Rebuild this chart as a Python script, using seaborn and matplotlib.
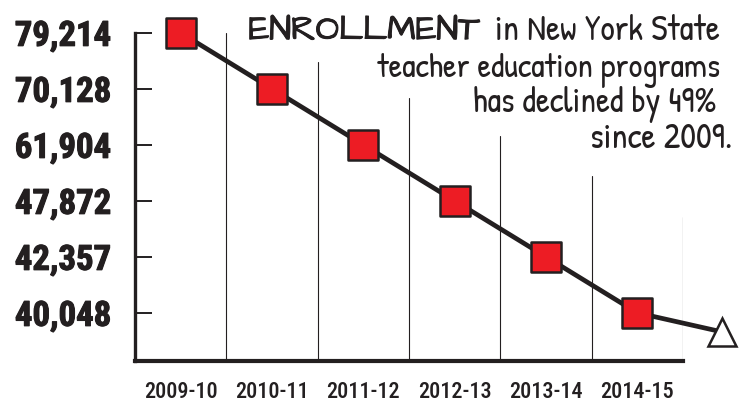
import matplotlib
matplotlib.use("Agg")
import matplotlib.pyplot as plt
import matplotlib.patheffects as pe
import seaborn as sns
import numpy as np

# enrollment by school year (NYS teacher education programs)
seasons = ["2009-10", "2010-11", "2011-12", "2012-13", "2013-14", "2014-15"]
enrollment = [79214, 70128, 61904, 47872, 42357, 40048]
# hand-drawn trend arrow continues past the last year
trend_x = 5.93
trend_value = 39260

INK = "#231f20"
RED = "#ed1c24"

sns.set_theme(style="white")
plt.rcParams["font.family"] = ["Roboto Condensed", "DejaVu Sans"]

# the y axis puts every enrollment figure on evenly spaced ticks
vals_asc = np.array(enrollment[::-1], dtype=float)
pos_asc = np.arange(len(vals_asc), dtype=float)
lo_step = vals_asc[1] - vals_asc[0]
hi_step = vals_asc[-1] - vals_asc[-2]


def to_pos(v):
    v = np.asarray(v, dtype=float)
    p = np.interp(v, vals_asc, pos_asc)
    p = np.where(v < vals_asc[0], (v - vals_asc[0]) / lo_step, p)
    p = np.where(v > vals_asc[-1], pos_asc[-1] + (v - vals_asc[-1]) / hi_step, p)
    return p


def to_val(p):
    p = np.asarray(p, dtype=float)
    v = np.interp(p, pos_asc, vals_asc)
    v = np.where(p < 0, vals_asc[0] + p * lo_step, v)
    v = np.where(p > pos_asc[-1], vals_asc[-1] + (p - pos_asc[-1]) * hi_step, v)
    return v


fig = plt.figure(figsize=(7.48, 4.02), dpi=100)
ax = fig.add_axes([0.1805, 0.0995, 0.7326, 0.8164])
ax.set_yscale("function", functions=(to_pos, to_val))

x = np.arange(len(seasons))

# trend extension to the open triangle
ax.plot([x[-1], trend_x], [enrollment[-1], trend_value], color=INK, lw=3.4,
        solid_capstyle="round", clip_on=False, zorder=3)
ax.plot([trend_x], [trend_value], marker="^", markersize=20, mfc="white",
        mec=INK, mew=1.8, clip_on=False, zorder=5)

sns.lineplot(x=x, y=enrollment, ax=ax, color=INK, lw=3.4, zorder=3)
sns.scatterplot(x=x, y=enrollment, ax=ax, marker="s", s=440, color=RED,
                edgecolor=INK, linewidth=1.8, zorder=4, clip_on=False)

ax.set_xlim(-0.5, 5.5)
ax.set_ylim(float(to_val(-0.86)), enrollment[0])

# staggered column lines
tops = [1.0, 0.912, 0.80, 0.686, 0.564, 0.439]
for i, top in enumerate(tops):
    ax.axvline(i + 0.5, ymin=0, ymax=top, color=INK, lw=0.8, zorder=1)
ax.axvline(5.52, ymin=0, ymax=tops[-1], color=INK, lw=0.6, zorder=1)

for side in ["top", "right"]:
    ax.spines[side].set_visible(False)
ax.spines["left"].set_linewidth(2.4)
ax.spines["left"].set_color(INK)
ax.spines["bottom"].set_linewidth(3.0)
ax.spines["bottom"].set_color(INK)

ax.set_yticks(enrollment)
ax.set_yticklabels([f"{v:,}" for v in enrollment], fontsize=25,
                   fontweight="bold", color=INK,
                   path_effects=[pe.withStroke(linewidth=0.8, foreground=INK)])
ax.yaxis.set_minor_locator(matplotlib.ticker.NullLocator())
ax.tick_params(axis="y", direction="in", length=12, width=1.4, color=INK,
               pad=17, left=True)

ax.set_xticks(x)
ax.set_xticklabels(seasons, fontsize=16, fontweight="medium", color=INK)
ax.tick_params(axis="x", length=0, pad=14)
ax.set_xlabel("")
ax.set_ylabel("")
ax.grid(False)

# headline
hand = ["Patrick Hand", "DejaVu Sans"]
fig.text(0.642, 0.9, "ENROLLMENT", fontsize=25,
         family=["Architects Daughter", "DejaVu Sans"], color=INK,
         ha="right", va="baseline",
         path_effects=[pe.withStroke(linewidth=0.7, foreground=INK)])
fig.text(0.9626, 0.9, "in New York State", fontsize=25.5, family=hand,
         color=INK, ha="right", va="baseline")
fig.text(0.9626, 0.808, "teacher education programs", fontsize=24.5,
         family=hand, color=INK, ha="right", va="baseline")
fig.text(0.958, 0.721, "has declined by 49%", fontsize=25, family=hand,
         color=INK, ha="right", va="baseline")
fig.text(0.979, 0.632, "since 2009.", fontsize=25.5, family=hand,
         color=INK, ha="right", va="baseline")

fig.savefig("out.png", dpi=100, facecolor="white")
